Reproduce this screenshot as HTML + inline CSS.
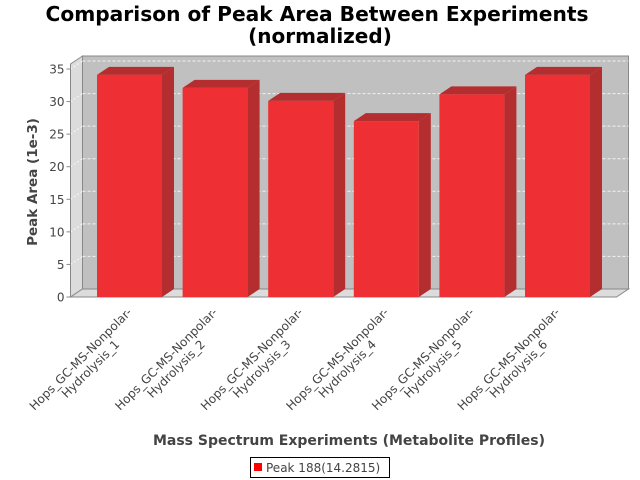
<!DOCTYPE html>
<html><head><meta charset="utf-8"><style>
body{margin:0;background:#fff;}
svg{display:block;font-family:"DejaVu Sans","Liberation Sans",sans-serif;}
</style></head><body>
<svg id="chart" width="640" height="480" viewBox="0 0 640 480" xmlns="http://www.w3.org/2000/svg">
<rect width="640" height="480" fill="#fff"/>
<text x="317" y="21" text-anchor="middle" font-size="20" font-weight="bold" fill="#000" textLength="543" lengthAdjust="spacingAndGlyphs">Comparison of Peak Area Between Experiments</text>
<text x="320" y="43" text-anchor="middle" font-size="20" font-weight="bold" fill="#000">(normalized)</text>
<g id="plot"></g>
<text transform="translate(37,182) rotate(-90)" text-anchor="middle" font-size="13.5" font-weight="bold" fill="#444">Peak Area (1e-3)</text>
<text x="349" y="445" text-anchor="middle" font-size="14" font-weight="bold" fill="#444">Mass Spectrum Experiments (Metabolite Profiles)</text>
<g>
<rect x="250.5" y="457.5" width="139" height="20" fill="#fff" stroke="#000"/>
<rect x="254" y="463" width="8" height="8" fill="#ff0000"/>
<text x="266" y="472" font-size="12" fill="#444">Peak 188(14.2815)</text>
</g>
</svg>
<script>
const categories = ["Hydrolysis_1","Hydrolysis_2","Hydrolysis_3","Hydrolysis_4","Hydrolysis_5","Hydrolysis_6"];
const values = [34.1, 32.1, 30.1, 27.0, 31.1, 34.1];
const yTicks = [0,5,10,15,20,25,30,35];
const labelPrefix = "Hops_GC-MS-Nonpolar-";

const NS="http://www.w3.org/2000/svg";
const g=document.getElementById('plot');
const X0=70.5, X1=616.5, DX=12, DY=8, YB=297, YMAX=35, YTOP=69;
const CX0=86.7, CX1=600.3;
const WT=YTOP-5;
function yS(v){return YB-(v/YMAX)*(YB-YTOP);}
function mk(tag,attrs){const e=document.createElementNS(NS,tag);for(const k in attrs)e.setAttribute(k,attrs[k]);g.appendChild(e);return e;}
const catW=(CX1-CX0)/categories.length;
function xS(i){return CX0+catW*i+catW*0.5;}
const barW=65;
let e;
e=mk('polygon',{points:`${X0},${WT} ${X0+DX},${WT-DY} ${X0+DX},${YB-DY} ${X0},${YB}`,fill:'#dcdcdc',stroke:'#888'});

e=mk('polygon',{points:`${X0},${YB} ${X0+DX},${YB-DY} ${X1+DX},${YB-DY} ${X1},${YB}`,fill:'#dcdcdc',stroke:'#888'});

e=mk('rect',{x:X0+DX,y:WT-DY,width:X1-X0,height:YB-WT,fill:'#c0c0c0',stroke:'#888'});

yTicks.forEach(t=>{
  const y=yS(t);
  if(t>0){
  e=mk('line',{x1:X0+DX,y1:y-DY,x2:X1+DX,y2:y-DY,stroke:'#fff','stroke-dasharray':'3,2','stroke-width':1,opacity:0.8});
  
  e=mk('line',{x1:X0,y1:y,x2:X0+DX,y2:y-DY,stroke:'#fff','stroke-dasharray':'2,2',opacity:0.8});
  }
  e=mk('line',{x1:X0-4,y1:y,x2:X0,y2:y,stroke:'#888'});
  
  e=mk('text',{x:X0-6,y:y+4.5,'text-anchor':'end','font-size':12,fill:'#444'});
  e.textContent=t;
  
});
e=mk('line',{x1:X0,y1:WT,x2:X0,y2:YB,stroke:'#888'});

e=mk('line',{x1:X0,y1:YB,x2:X1,y2:YB,stroke:'#888'});

values.forEach((v,i)=>{
  const xl=xS(i)-barW/2, xr=xl+barW, yt=yS(v);
  e=mk('polygon',{points:`${xr},${yt} ${xr+DX},${yt-DY} ${xr+DX},${YB-DY} ${xr},${YB}`,fill:'#b42d2f'});
  
  e=mk('polygon',{points:`${xl},${yt} ${xl+DX},${yt-DY} ${xr+DX},${yt-DY} ${xr},${yt}`,fill:'#b42d2f'});
  
  e=mk('rect',{x:xl,y:yt,width:barW,height:YB-yt,fill:'#ee2f33'});
  
  const cx=xS(i)-46, cy=362;
  e=mk('text',{transform:`translate(${cx},${cy}) rotate(-45)`,'text-anchor':'middle','font-size':12,fill:'#444'});
  
  const t1=document.createElementNS(NS,'tspan');t1.setAttribute('x',0);t1.setAttribute('y',0);t1.textContent=labelPrefix;e.appendChild(t1);
  const t2=document.createElementNS(NS,'tspan');t2.setAttribute('x',0);t2.setAttribute('y',14);t2.textContent=categories[i];e.appendChild(t2);
});
</script>
</body></html>
